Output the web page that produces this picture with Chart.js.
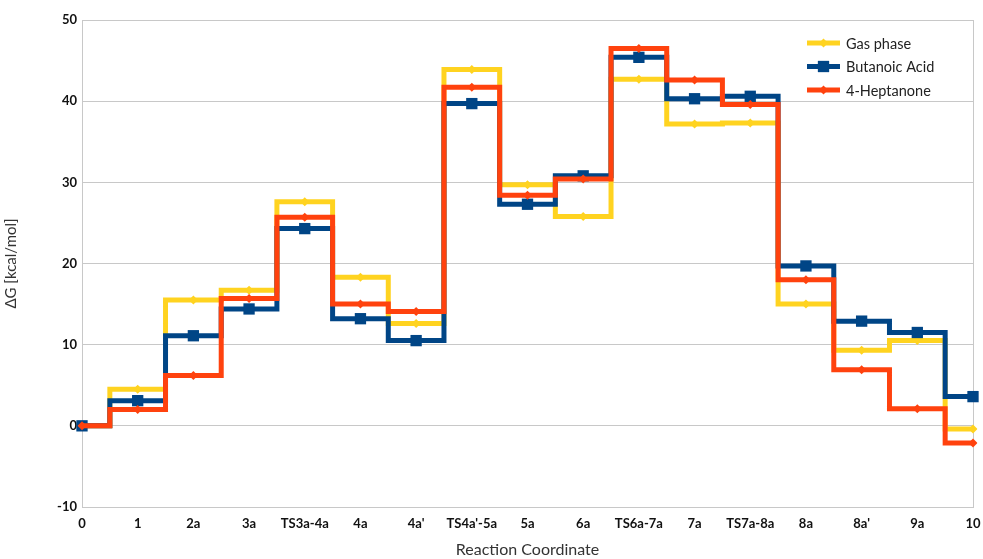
<!DOCTYPE html>
<html><head><meta charset="utf-8">
<script src="https://cdn.jsdelivr.net/npm/chart.js@4/dist/chart.umd.min.js"></script>
<style>html,body{margin:0;padding:0;background:#fff}#wrap{width:983px;height:559px}</style>
</head><body><div id="wrap"><canvas id="c" width="983" height="559"></canvas></div>
<script>
const categories = ["0","1","2a","3a","TS3a-4a","4a","4a'","TS4a'-5a","5a","6a","TS6a-7a","7a","TS7a-8a","8a","8a'","9a","10"];
const gasPhase     = [0, 4.5, 15.5, 16.7, 27.6, 18.3, 12.6, 43.9, 29.7, 25.8, 42.7, 37.2, 37.3, 15.0, 9.3, 10.5, -0.4];
const butanoicAcid = [0, 3.1, 11.1, 14.4, 24.3, 13.2, 10.5, 39.7, 27.3, 30.8, 45.4, 40.3, 40.6, 19.7, 12.9, 11.5, 3.6];
const heptanone    = [0, 2.0, 6.2, 15.7, 25.7, 15.0, 14.1, 41.7, 28.4, 30.4, 46.5, 42.6, 39.6, 18.0, 6.9, 2.1, -2.1];
const seriesNames  = ["Gas phase", "Butanoic Acid", "4-Heptanone"];
const yMin = -10, yMax = 50, yStep = 10;
const xTitle = "Reaction Coordinate";
const yTitle = "\u0394G [kcal/mol]";

const colors = ["#ffd320", "#004586", "#ff420e"];
const pStyles = ["rectRot", "rect", "rectRot"];
const pRadius = [4.5, 8, 4.5];

function drawMarker(ctx, style, x, y, r, color) {
  ctx.fillStyle = color;
  ctx.beginPath();
  if (style === 'rect') {
    const s = r * Math.SQRT1_2;
    ctx.rect(x - s, y - s, 2 * s, 2 * s);
  } else {
    ctx.moveTo(x, y - r); ctx.lineTo(x + r, y); ctx.lineTo(x, y + r); ctx.lineTo(x - r, y); ctx.closePath();
  }
  ctx.fill();
}

const legendPlugin = {
  id: 'insideLegend',
  afterDraw(chart) {
    const ctx = chart.ctx;
    const ca = chart.chartArea;
    ctx.save();
    chart.data.datasets.forEach((ds, i) => {
      const y = ca.top + 23 + i * 23.5;
      const x0 = ca.right - 166;
      ctx.strokeStyle = ds.borderColor;
      ctx.lineWidth = 5;
      ctx.beginPath(); ctx.moveTo(x0, y); ctx.lineTo(x0 + 33, y); ctx.stroke();
      drawMarker(ctx, pStyles[i], x0 + 16.5, y, pRadius[i], ds.borderColor);
      ctx.fillStyle = '#222';
      ctx.font = '14.5px Lato, "Open Sans", sans-serif';
      ctx.textBaseline = 'middle';
      ctx.textAlign = 'left';
      ctx.fillText(ds.label, x0 + 39, y + 1);
    });
    ctx.restore();
  }
};

const dataSeries = [gasPhase, butanoicAcid, heptanone];
const datasets = dataSeries.map((d, i) => ({
  label: seriesNames[i],
  data: d,
  borderColor: colors[i],
  backgroundColor: colors[i],
  borderWidth: 5,
  stepped: 'middle',
  pointStyle: pStyles[i],
  pointRadius: pRadius[i],
  pointBorderWidth: 0,
  pointHoverRadius: pRadius[i],
  fill: false,
  order: 3 - i
}));

new Chart(document.getElementById('c'), {
  type: 'line',
  data: { labels: categories, datasets },
  options: {
    responsive: false,
    animation: false,
    devicePixelRatio: 1,
    layout: { padding: { top: 20, right: 10, left: 0, bottom: 0 } },
    plugins: { legend: { display: false }, tooltip: { enabled: false } },
    scales: {
      x: {
        type: 'category',
        offset: false,
        afterFit(s) { s.height = 52; s.paddingLeft = 0; s.paddingRight = 0; },
        grid: {
          drawTicks: false,
          color: (c) => (c.index === categories.length - 1 ? '#c8c8c8' : 'rgba(0,0,0,0)'),
          lineWidth: 1
        },
        border: { display: true, color: '#c8c8c8', width: 1 },
        ticks: { color: '#111', padding: 9, maxRotation: 0, autoSkip: false, font: { family: 'Lato, "Open Sans", sans-serif', size: 13, weight: 'bold' } },
        title: { display: true, text: xTitle, color: '#333', padding: { top: 0, bottom: 0 }, font: { family: 'Lato, "Open Sans", sans-serif', size: 16 } }
      },
      y: {
        min: yMin, max: yMax,
        afterFit(s) { s.width = 82; },
        grid: { drawTicks: false, color: '#c8c8c8', lineWidth: 1 },
        border: { display: true, color: '#c8c8c8', width: 1 },
        ticks: { stepSize: yStep, color: '#111', padding: 5, font: { family: 'Lato, "Open Sans", sans-serif', size: 13, weight: 'bold' } },
        title: { display: true, text: yTitle, color: '#333', padding: { top: 2, bottom: 0 }, font: { family: 'Lato, "Open Sans", sans-serif', size: 15 } }
      }
    }
  },
  plugins: [legendPlugin]
});
</script>
</body></html>
